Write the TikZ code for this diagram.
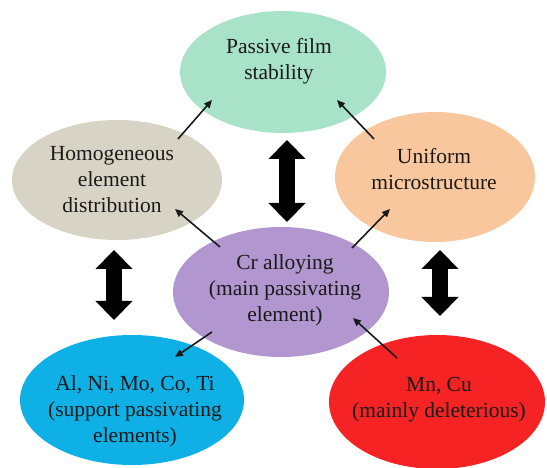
\documentclass[tikz,border=0pt]{standalone}
\usepackage{fontspec}
\setmainfont{Liberation Serif}
\usetikzlibrary{shapes.geometric,arrows.meta,calc}
\definecolor{cgreen}{HTML}{A8E2C9}
\definecolor{cbeige}{HTML}{D8D4C5}
\definecolor{cpeach}{HTML}{F9C79E}
\definecolor{cpurple}{HTML}{B296D0}
\definecolor{cblue}{HTML}{0EB0E6}
\definecolor{cred}{HTML}{F52323}
\definecolor{ink}{HTML}{1A1A1A}
\tikzset{
  ell/.style={ellipse, draw=none, fill=#1, inner sep=0pt},
  txt/.style={align=center, inner sep=0pt, text=ink, font=\fontsize{21.5}{26}\selectfont},
  thin arrow/.style={draw=ink, line width=1.6pt, -{Triangle[length=8pt,width=7pt]}},
  big arrow/.style={draw=black, line width=16pt,
    {Triangle[length=19pt,width=36pt]}-{Triangle[length=19pt,width=36pt]}}
}
\begin{document}
\begin{tikzpicture}[x=1pt,y=-1pt]
\path[use as bounding box, fill=white] (0,0) rectangle (547,468);
% ellipses
\node[ell=cgreen, minimum width=206pt, minimum height=122pt] (pf) at (283,72) {};
\node[ell=cbeige, minimum width=210pt, minimum height=120pt] (hd) at (117,180) {};
\node[ell=cpeach, minimum width=200pt, minimum height=130pt] (um) at (435,177) {};
\node[ell=cpurple, minimum width=216pt, minimum height=130pt] (cr) at (281,292) {};
\node[ell=cblue, minimum width=224pt, minimum height=130pt] (sp) at (132,400) {};
\node[ell=cred, minimum width=216pt, minimum height=134pt] (mn) at (437,402) {};
% texts
\node[txt] (pft) at (279,61) {Passive film\\stability};
\node[txt] (hdt) at (112,180) {Homogeneous\\element\\distribution};
\node[txt] (umt) at (434,169) {Uniform\\microstructure};
\node[txt] (crt) at (285,290) {Cr alloying\\(main passivating\\element)};
\node[txt] (spt) at (135,411) {Al, Ni, Mo, Co, Ti\\(support passivating\\elements)};
\node[txt] (mnt) at (439,400) {Mn, Cu\\(mainly deleterious)};
% thin arrows
\draw[thin arrow] ($(hd)+(61,-41)$) -- ($(pf)+(-71,28)$);
\draw[thin arrow] ($(um)+(-61,-38)$) -- ($(pf)+(54,28)$);
\draw[thin arrow] ($(cr)+(-61,-45)$) -- ($(hd)+(58,29)$);
\draw[thin arrow] ($(cr)+(71,-44)$) -- ($(um)+(-45,32)$);
\draw[thin arrow] ($(cr)+(-69,40)$) -- ($(sp)+(43,-43)$);
\draw[thin arrow] ($(mn)+(-40,-44)$) -- ($(cr)+(72,26)$);
% big double arrows
\draw[big arrow] ($(pf)+(4,68)$) -- ($(cr)+(6,-70)$);
\draw[big arrow] ($(hd)+(-3,70)$) -- ($(sp)+(-18,-80)$);
\draw[big arrow] ($(um)+(5,73)$) -- ($(mn)+(3,-86)$);
\end{tikzpicture}
\end{document}
